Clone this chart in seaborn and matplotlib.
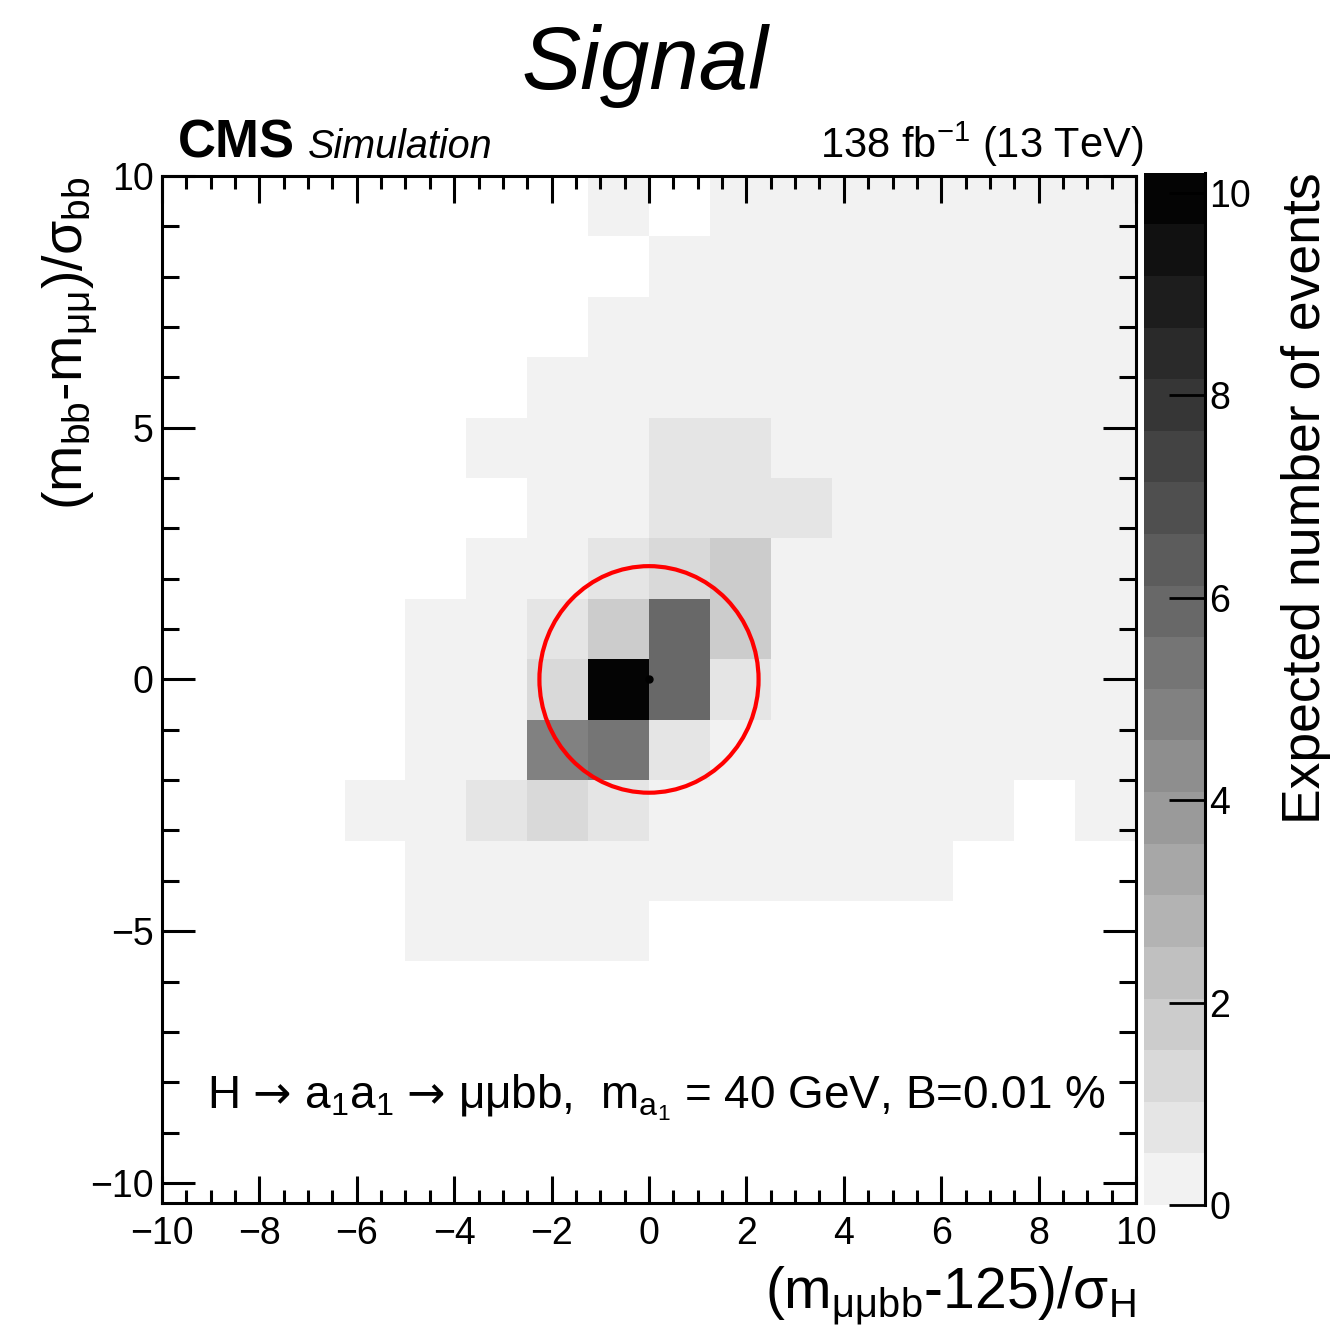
import numpy as np
import pandas as pd
import matplotlib
matplotlib.use("Agg")
import matplotlib.pyplot as plt
from matplotlib.colors import ListedColormap
from matplotlib.patches import Ellipse
from matplotlib.ticker import MultipleLocator
import seaborn as sns

# ---------------- data ----------------
x_edges = [-10.0, -8.75, -7.5, -6.25, -5.0, -3.75, -2.5, -1.25, 0.0,
           1.25, 2.5, 3.75, 5.0, 6.25, 7.5, 8.75, 10.0]
y_edges = [-10.4, -9.2, -8.0, -6.8, -5.6, -4.4, -3.2, -2.0, -0.8,
           0.4, 1.6, 2.8, 4.0, 5.2, 6.4, 7.6, 8.8, 10.0]
# expected events per cell; rows from top (y 8.8..10) to bottom (y -10.4..-9.2),
# columns from x=-10 to x=10
expected_events = [
    [0, 0, 0, 0, 0,    0,    0,    0.05, 0,    0.05, 0.05, 0.05, 0.05, 0.05, 0.05, 0.05],
    [0, 0, 0, 0, 0,    0,    0,    0,    0.06, 0.07, 0.06, 0.05, 0.05, 0.05, 0.05, 0.05],
    [0, 0, 0, 0, 0,    0,    0,    0.06, 0.10, 0.10, 0.08, 0.06, 0.05, 0.05, 0.05, 0.05],
    [0, 0, 0, 0, 0,    0,    0.05, 0.10, 0.20, 0.20, 0.12, 0.08, 0.06, 0.05, 0.05, 0.05],
    [0, 0, 0, 0, 0,    0.05, 0.10, 0.25, 0.60, 0.55, 0.30, 0.10, 0.07, 0.05, 0.05, 0.05],
    [0, 0, 0, 0, 0,    0,    0.15, 0.35, 0.70, 0.75, 0.55, 0.20, 0.10, 0.06, 0.05, 0.05],
    [0, 0, 0, 0, 0,    0.10, 0.30, 0.80, 1.30, 1.80, 0.40, 0.15, 0.10, 0.06, 0.05, 0.05],
    [0, 0, 0, 0, 0.05, 0.20, 0.80, 1.80, 5.90, 1.80, 0.35, 0.15, 0.10, 0.06, 0.05, 0.05],
    [0, 0, 0, 0, 0.10, 0.40, 1.30, 10.2, 5.90, 0.80, 0.30, 0.12, 0.08, 0.06, 0.05, 0.05],
    [0, 0, 0, 0, 0.10, 0.45, 4.80, 5.30, 0.80, 0.40, 0.20, 0.10, 0.07, 0.05, 0.05, 0.05],
    [0, 0, 0, 0.05, 0.15, 0.70, 1.30, 0.70, 0.40, 0.20, 0.10, 0.07, 0.05, 0.05, 0, 0.05],
    [0, 0, 0, 0, 0.10, 0.20, 0.35, 0.40, 0.30, 0.15, 0.08, 0.05, 0.05, 0,    0,    0],
    [0, 0, 0, 0, 0.05, 0.10, 0.15, 0.20, 0,    0,    0,    0,    0,    0,    0,    0],
    [0] * 16,
    [0] * 16,
    [0] * 16,
    [0] * 16,
]
z_max = 10.2
colorbar_ticks = [0, 2, 4, 6, 8, 10]
circle_center = (0.0, 0.0)
circle_radius = 2.25

# ---------------- style ----------------
plt.rcParams.update({
    "font.family": ["Liberation Sans", "DejaVu Sans"],
    "mathtext.fontset": "custom",
    "mathtext.rm": "Liberation Sans",
    "mathtext.it": "Liberation Sans:italic",
    "mathtext.bf": "Liberation Sans:bold",
    "mathtext.sf": "DejaVu Sans",
    "mathtext.default": "regular",
    "axes.linewidth": 2.2,
})

# 20-level grey palette (ROOT-like grey scale)
n_levels = 20
grey_cmap = ListedColormap(
    [str((242 - 238 * k / (n_levels - 1)) / 255) for k in range(n_levels)]
)

# long-form table of bin centres and weights
recs = []
n_rows = len(y_edges) - 1
for i, row in enumerate(expected_events):
    yi = n_rows - 1 - i
    yc = 0.5 * (y_edges[yi] + y_edges[yi + 1])
    for j, v in enumerate(row):
        if v > 0:
            xc = 0.5 * (x_edges[j] + x_edges[j + 1])
            recs.append((xc, yc, v))
df = pd.DataFrame(recs, columns=["x", "y", "w"])

fig = plt.figure(figsize=(13.31, 13.43), dpi=100)
ax = fig.add_axes([0.1217, 0.1042, 0.7318, 0.7648])
cax = fig.add_axes([0.8595, 0.1028, 0.0458, 0.7685])

sns.histplot(data=df, x="x", y="y", weights="w", bins=[x_edges, y_edges],
             cmap=grey_cmap, vmax=z_max, cbar=True, cbar_ax=cax, ax=ax)

ax.set_xlim(x_edges[0], x_edges[-1])
ax.set_ylim(y_edges[0], y_edges[-1])
ax.set_facecolor("white")

# red circle and centre dot
ax.add_patch(Ellipse(circle_center, 2 * circle_radius, 2 * circle_radius,
                     fill=False, edgecolor="red", lw=3.0, zorder=5))
ax.plot([circle_center[0]], [circle_center[1]], "o", color="black", ms=5, zorder=6)

# ticks
ax.xaxis.set_major_locator(MultipleLocator(2))
ax.xaxis.set_minor_locator(MultipleLocator(0.5))
ax.yaxis.set_major_locator(MultipleLocator(5))
ax.yaxis.set_minor_locator(MultipleLocator(1))
ax.tick_params(which="both", direction="in", top=True, right=True, width=2.2,
               color="black")
ax.tick_params(axis="x", which="major", length=19.5, labelsize=27, pad=9)
ax.tick_params(axis="x", which="minor", length=9.5)
ax.tick_params(axis="y", which="major", length=24, labelsize=27, pad=6)
ax.tick_params(axis="y", which="minor", length=12)
for s in ax.spines.values():
    s.set_linewidth(2.2)
    s.set_visible(True)

# axis titles
ax.set_xlabel(r"(m$_{μμbb}$-125)/σ$_{H}$", fontsize=41, loc="right")
ax.xaxis.set_label_coords(1.0, -0.060)
ax.set_ylabel(r"(m$_{bb}$-m$_{μμ}$)/σ$_{bb}$", fontsize=40, loc="top")
ax.yaxis.set_label_coords(-0.064, 1.0)

# annotation
ax.text(0.046, 0.0925,
        r"H $\mathsf{→}$ a$_{1}$a$_{1}$ $\mathsf{→}$ μμbb,  m$_{a_{1}}$ = 40 GeV, B=0.01 %",
        transform=ax.transAxes, fontsize=33, ha="left", va="baseline")

# colorbar styling
cbar = ax.collections[0].colorbar
cbar.outline.set_visible(False)
cax.spines["right"].set_visible(True)
cax.spines["right"].set_linewidth(2.2)
cbar.set_ticks(colorbar_ticks)
cbar.minorticks_off()
cax.tick_params(direction="in", length=26, width=2.0, labelsize=27, pad=3,
                right=True, left=False)
cbar.set_label("Expected number of events", fontsize=38.5, loc="top")
cax.yaxis.set_label_coords(2.25, 1.0)

# header texts
fig.text(0.4846, 0.9337, "Signal", style="italic", fontsize=64,
         ha="center", va="baseline")
fig.text(0.1337, 0.8824, "CMS", fontweight="bold", fontsize=38,
         ha="left", va="baseline")
fig.text(0.2314, 0.8824, "Simulation", style="italic", fontsize=28.5,
         ha="left", va="baseline")
fig.text(0.8588, 0.8824, r"138 fb$^{-1}$ (13 TeV)", fontsize=30,
         ha="right", va="baseline")

fig.savefig("out.png", dpi=100, facecolor="white")
